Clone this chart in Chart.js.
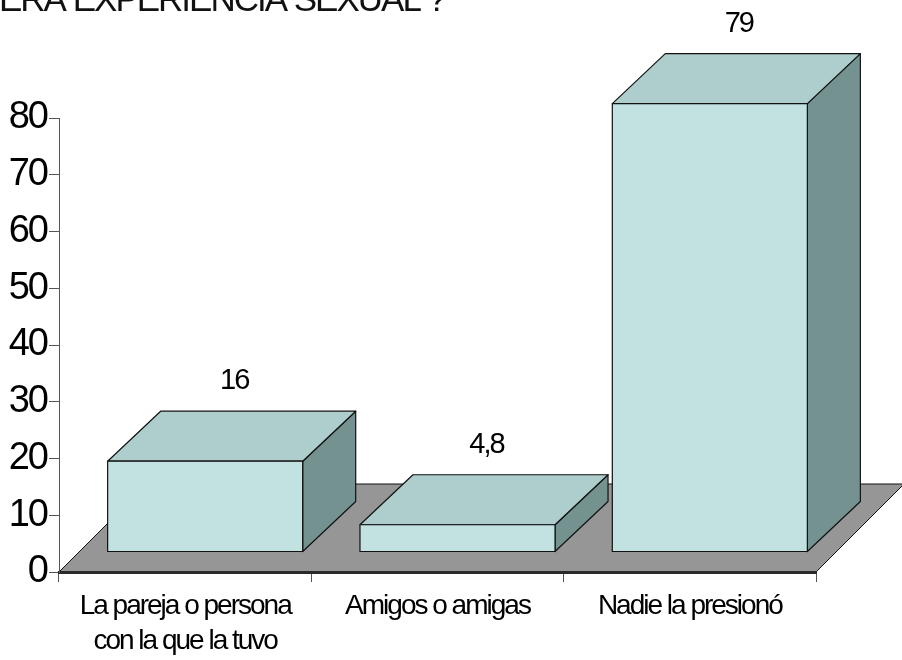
<!DOCTYPE html>
<html><head><meta charset="utf-8">
<script src="https://cdn.jsdelivr.net/npm/chart.js@4.4.1/dist/chart.umd.min.js"></script>
<style>html,body{margin:0;padding:0;background:#fff;overflow:hidden}#wrap{width:902px;height:660px}</style>
</head><body><div id="wrap"><canvas id="c" width="902" height="660"></canvas></div>
<script>
// ---- data ----
const categories = [['La pareja o persona', 'con la que la tuvo'], 'Amigos o amigas', 'Nadie la presionó'];
const values = [16, 4.8, 79];
const valueLabels = ['16', '4,8', '79'];
const yMin = 0, yMax = 80, yStep = 10;
const titleText = 'ERA EXPERIENCIA SEXUAL ?';

// ---- styling ----
const FONT = "'Liberation Sans', Arial, sans-serif";
const COL_FRONT = '#c1e2e0', COL_TOP = '#adcecc', COL_SIDE = '#749390', COL_FLOOR = '#969696';
const OFF = 20;      // bar placement inside floor depth
const DX = 53, DY = 50; // bar depth
const FLOOR = 88;    // floor depth

const threeD = {
  id: 'threeD',
  afterInit(chart) { chart.ctx.letterSpacing = '-2px'; },
  beforeDraw(chart) {
    const ctx = chart.ctx, a = chart.chartArea;
    ctx.letterSpacing = '-2px';
    ctx.save();
    ctx.beginPath();
    ctx.moveTo(a.left, a.bottom);
    ctx.lineTo(a.right, a.bottom);
    ctx.lineTo(a.right + FLOOR, a.bottom - FLOOR);
    ctx.lineTo(a.left + FLOOR, a.bottom - FLOOR);
    ctx.closePath();
    ctx.fillStyle = COL_FLOOR; ctx.fill();
    ctx.strokeStyle = '#111'; ctx.lineWidth = 1; ctx.stroke();
    ctx.restore();
  },
  afterDatasetsDraw(chart) {
    const ctx = chart.ctx;
    const meta = chart.getDatasetMeta(0);
    ctx.save();
    ctx.lineWidth = 1.2; ctx.strokeStyle = '#111'; ctx.lineJoin = 'round';
    meta.data.forEach((el, i) => {
      const l = el.x - el.width / 2 + OFF, r = el.x + el.width / 2 + OFF;
      const t = el.y - OFF, b = el.base - OFF;
      // side
      ctx.beginPath();
      ctx.moveTo(r, t); ctx.lineTo(r + DX, t - DY); ctx.lineTo(r + DX, b - DY); ctx.lineTo(r, b); ctx.closePath();
      ctx.fillStyle = COL_SIDE; ctx.fill(); ctx.stroke();
      // top
      ctx.beginPath();
      ctx.moveTo(l, t); ctx.lineTo(r, t); ctx.lineTo(r + DX, t - DY); ctx.lineTo(l + DX, t - DY); ctx.closePath();
      ctx.fillStyle = COL_TOP; ctx.fill(); ctx.stroke();
      // front
      ctx.beginPath();
      ctx.rect(l, t, r - l, b - t);
      ctx.fillStyle = COL_FRONT; ctx.fill(); ctx.stroke();
      // value label
      ctx.fillStyle = '#000';
      ctx.font = '29px ' + FONT;
      ctx.textAlign = 'center'; ctx.textBaseline = 'middle';
      ctx.fillText(valueLabels[i], (l + r) / 2 + 29, t - DY - 30);
    });
    ctx.restore();
  },
  afterDraw(chart) {
    const ctx = chart.ctx;
    ctx.save();
    ctx.fillStyle = '#111';
    ctx.font = '35px ' + FONT;
    ctx.textAlign = 'left'; ctx.textBaseline = 'alphabetic';
    ctx.fillText(titleText, -1, 11);
    ctx.restore();
  }
};

new Chart(document.getElementById('c'), {
  type: 'bar',
  data: {
    labels: categories,
    datasets: [{
      data: values,
      backgroundColor: 'rgba(0,0,0,0)',
      borderWidth: 0,
      categoryPercentage: 1,
      barPercentage: 0.773
    }]
  },
  options: {
    responsive: false,
    animation: false,
    devicePixelRatio: 1,
    layout: { padding: { top: 118, right: 86, left: 0, bottom: 0 } },
    plugins: { legend: { display: false }, tooltip: { enabled: false }, title: { display: false } },
    scales: {
      x: {
        offset: true,
        grid: { offset: true, drawOnChartArea: false, drawTicks: true, tickLength: 10, color: '#555', lineWidth: 1 },
        border: { display: true, color: '#2a2a2a', width: 3 },
        ticks: { color: '#000', font: { family: FONT, size: 28, lineHeight: 1.25 }, padding: 7, maxRotation: 0, autoSkip: false },
        afterFit(s) { s.height = 88; }
      },
      y: {
        min: yMin, max: yMax,
        ticks: { stepSize: yStep, color: '#000', font: { family: FONT, size: 38 }, padding: 2 },
        grid: { drawOnChartArea: false, drawTicks: true, tickLength: 10, color: '#555' },
        border: { display: true, color: '#555', width: 1 },
        afterFit(s) { s.width = 59; }
      }
    }
  },
  plugins: [threeD]
});
</script>
</body></html>
